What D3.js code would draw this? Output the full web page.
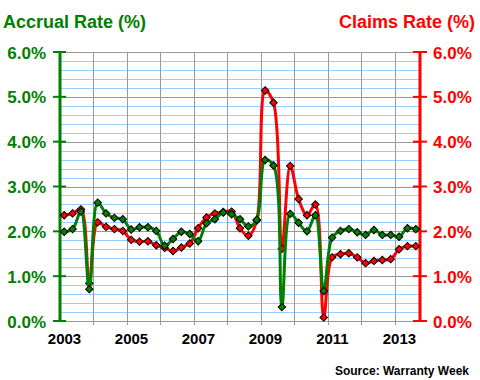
<!DOCTYPE html>
<html>
<head>
<meta charset="utf-8">
<script src="https://cdn.jsdelivr.net/npm/d3@7"></script>
<style>
  html, body { margin: 0; padding: 0; background: #ffffff; }
  svg { display: block; font-family: Arial, "Liberation Sans", sans-serif; }
</style>
</head>
<body>
<svg id="chart" width="480" height="380"></svg>
<script>
// ---- data ----
const periods = [
  "2003Q1","2003Q2","2003Q3","2003Q4",
  "2004Q1","2004Q2","2004Q3","2004Q4",
  "2005Q1","2005Q2","2005Q3","2005Q4",
  "2006Q1","2006Q2","2006Q3","2006Q4",
  "2007Q1","2007Q2","2007Q3","2007Q4",
  "2008Q1","2008Q2","2008Q3","2008Q4",
  "2009Q1","2009Q2","2009Q3","2009Q4",
  "2010Q1","2010Q2","2010Q3","2010Q4",
  "2011Q1","2011Q2","2011Q3","2011Q4",
  "2012Q1","2012Q2","2012Q3","2012Q4",
  "2013Q1","2013Q2","2013Q3"
];
const accrualRate = [
  1.99, 2.05, 2.44, 0.71,
  2.64, 2.40, 2.30, 2.27,
  2.04, 2.09, 2.09, 2.01,
  1.68, 1.83, 1.99, 1.94,
  1.78, 2.18, 2.27, 2.42,
  2.38, 2.27, 2.11, 2.26,
  3.59, 3.47, 0.31, 2.39,
  2.19, 2.00, 2.36, 0.67,
  1.86, 2.01, 2.05, 1.98,
  1.92, 2.03, 1.92, 1.92,
  1.88, 2.07, 2.05
];
const claimsRate = [
  2.36, 2.40, 2.49, 0.84,
  2.20, 2.10, 2.05, 2.01,
  1.81, 1.77, 1.78, 1.69,
  1.63, 1.56, 1.64, 1.73,
  2.07, 2.31, 2.40, 2.43,
  2.44, 2.07, 1.90, 2.24,
  5.14, 4.87, 1.61, 3.46,
  2.72, 2.36, 2.60, 0.08,
  1.42, 1.49, 1.51, 1.42,
  1.29, 1.34, 1.36, 1.38,
  1.60, 1.67, 1.67
];
const yearTicks = [2003, 2004, 2005, 2006, 2007, 2008, 2009, 2010, 2011, 2012, 2013];
const yearLabels = ["2003", "2005", "2007", "2009", "2011", "2013"];
const pctTicks = [0, 1, 2, 3, 4, 5, 6];
const minorTicks = [0.2,0.4,0.6,0.8,1.2,1.4,1.6,1.8,2.2,2.4,2.6,2.8,3.2,3.4,3.6,3.8,4.2,4.4,4.6,4.8,5.2,5.4,5.6,5.8];

// ---- layout ----
const GREEN = "#008000", RED = "#ff0000";
const pLeft = 60, pRight = 420, pTop = 52, pBottom = 321;
const svg = d3.select("#chart");

const toYear = p => +p.slice(0, 4) + (+p.slice(5) - 1) * 0.25 + 0.125;
const x = d3.scaleLinear().domain([2003, 2013.75]).range([pLeft, pRight]);
const y = d3.scaleLinear().domain([0, 6]).range([pBottom, pTop]);

// minor horizontal gridlines
svg.append("g").selectAll("line").data(minorTicks).join("line")
  .attr("x1", pLeft).attr("x2", pRight)
  .attr("y1", d => Math.round(y(d)) + 0.5).attr("y2", d => Math.round(y(d)) + 0.5)
  .attr("stroke", "#99ccff").attr("stroke-width", 1);

// major horizontal gridlines
svg.append("g").selectAll("line").data(pctTicks).join("line")
  .attr("x1", pLeft).attr("x2", pRight)
  .attr("y1", d => Math.round(y(d)) + 0.5).attr("y2", d => Math.round(y(d)) + 0.5)
  .attr("stroke", "#999999").attr("stroke-width", 1);

// vertical gridlines
svg.append("g").selectAll("line").data(yearTicks.slice(1)).join("line")
  .attr("x1", d => Math.round(x(d)) + 0.5).attr("x2", d => Math.round(x(d)) + 0.5)
  .attr("y1", pTop).attr("y2", pBottom + 4)
  .attr("stroke", "#999999").attr("stroke-width", 1);

// x axis labels
const xAxis = d3.axisBottom(x).tickValues(yearLabels.map(Number))
  .tickFormat(d3.format("d")).tickSize(0).tickPadding(0);
const gx = svg.append("g").attr("transform", `translate(4,${pBottom})`).call(xAxis);
gx.select(".domain").remove();
gx.selectAll("text").attr("y", 23).attr("dy", null)
  .attr("font-size", 15).attr("font-weight", "bold").attr("fill", "#000")
  .attr("font-family", "Arial, 'Liberation Sans', sans-serif");

// left axis
const yl = d3.axisLeft(y).tickValues(pctTicks).tickFormat(d => d.toFixed(1) + "%")
  .tickSize(0).tickPadding(0);
const gl = svg.append("g").attr("transform", `translate(${pLeft},0)`).call(yl);
gl.select(".domain").remove();
gl.selectAll("text").attr("x", -14).attr("dy", "0.36em")
  .attr("font-size", 17).attr("font-weight", "bold").attr("fill", GREEN)
  .attr("font-family", "Arial, 'Liberation Sans', sans-serif");
gl.append("line").attr("x1", 0).attr("x2", 0).attr("y1", pTop - 1).attr("y2", pBottom + 1)
  .attr("stroke", GREEN).attr("stroke-width", 3);
gl.selectAll(".tk").data(pctTicks).join("line").attr("class", "tk")
  .attr("x1", -7).attr("x2", 6).attr("y1", d => y(d)).attr("y2", d => y(d))
  .attr("stroke", GREEN).attr("stroke-width", 2);

// right axis
const yr = d3.axisRight(y).tickValues(pctTicks).tickFormat(d => d.toFixed(1) + "%")
  .tickSize(0).tickPadding(0);
const gr = svg.append("g").attr("transform", `translate(${pRight},0)`).call(yr);
gr.select(".domain").remove();
gr.selectAll("text").attr("x", 13).attr("dy", "0.36em")
  .attr("font-size", 17).attr("font-weight", "bold").attr("fill", RED)
  .attr("font-family", "Arial, 'Liberation Sans', sans-serif");
gr.append("line").attr("x1", 0).attr("x2", 0).attr("y1", pTop - 1).attr("y2", pBottom + 1)
  .attr("stroke", RED).attr("stroke-width", 3);
gr.selectAll(".tk").data(pctTicks).join("line").attr("class", "tk")
  .attr("x1", -7).attr("x2", 7).attr("y1", d => y(d)).attr("y2", d => y(d))
  .attr("stroke", RED).attr("stroke-width", 2);

// series
const line = d3.line().curve(d3.curveCatmullRom.alpha(0.5))
  .x(d => x(d[0])).y(d => y(d[1]));
const diamond = d3.symbol().type(d3.symbolSquare).size(28);

function drawSeries(values, color) {
  const pts = periods.map((p, i) => [toYear(p), values[i]]);
  svg.append("path").datum(pts).attr("d", line)
    .attr("fill", "none").attr("stroke", color).attr("stroke-width", 3)
    .attr("stroke-linejoin", "round");
  svg.append("g").selectAll("path").data(pts).join("path")
    .attr("d", diamond)
    .attr("transform", d => `translate(${x(d[0])},${y(d[1])}) rotate(45)`)
    .attr("fill", color).attr("stroke", "#000").attr("stroke-width", 1);
}
drawSeries(claimsRate, RED);
drawSeries(accrualRate, GREEN);

// titles
svg.append("text").attr("x", 3).attr("y", 28).text("Accrual Rate (%)")
  .attr("font-size", 18).attr("font-weight", "bold").attr("fill", GREEN);
svg.append("text").attr("x", 475).attr("y", 28).attr("text-anchor", "end").text("Claims Rate (%)")
  .attr("font-size", 18).attr("font-weight", "bold").attr("fill", RED);
svg.append("text").attr("x", 469).attr("y", 375).attr("text-anchor", "end").text("Source: Warranty Week")
  .attr("font-size", 12).attr("font-weight", "bold").attr("fill", "#000");
</script>
</body>
</html>
